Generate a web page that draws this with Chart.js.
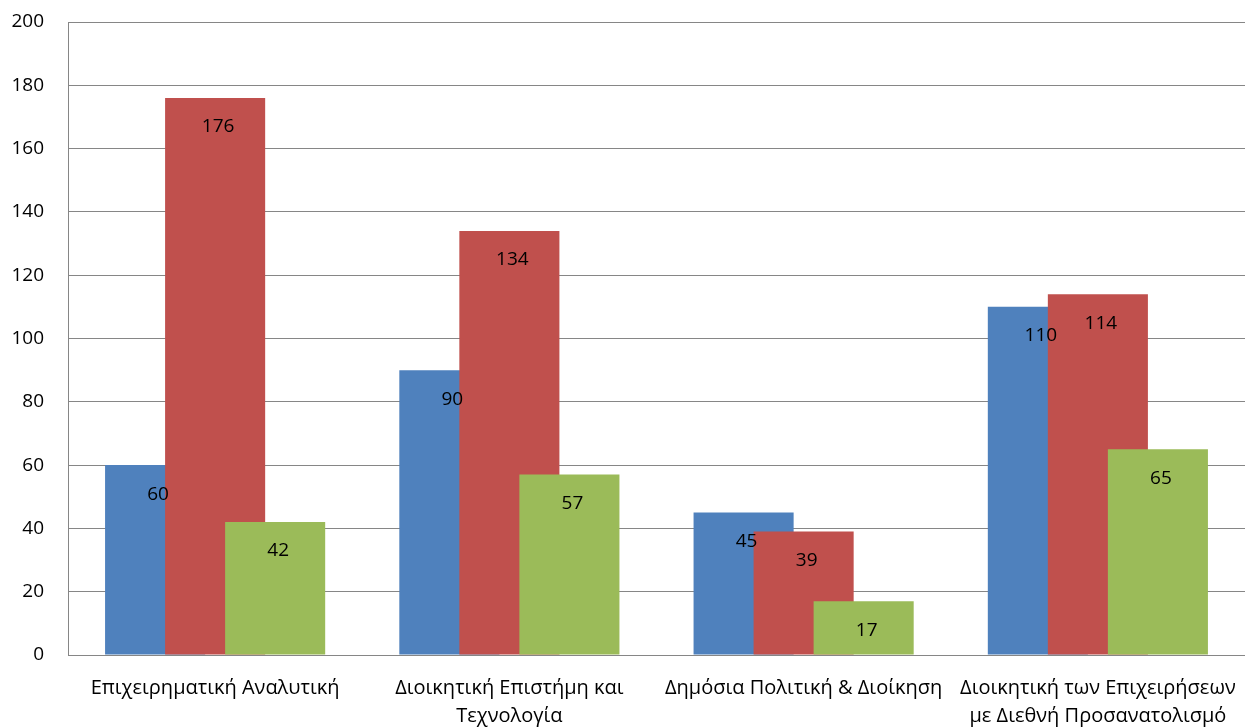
<!DOCTYPE html>
<html>
<head>
<meta charset="utf-8">
<script src="https://cdn.jsdelivr.net/npm/chart.js@4"></script>
<style>
  html, body { margin: 0; padding: 0; background: #fff; }
  #wrap { width: 1245px; height: 727px; }
</style>
</head>
<body>
<div id="wrap"><canvas id="chart"></canvas></div>
<script>
// data
const categories = [
  'Επιχειρηματική Αναλυτική',
  ['Διοικητική Επιστήμη και', 'Τεχνολογία'],
  'Δημόσια Πολιτική & Διοίκηση',
  ['Διοικητική των Επιχειρήσεων', 'με Διεθνή Προσανατολισμό']
];
const seriesBlue = [60, 90, 45, 110];
const seriesRed = [176, 134, 39, 114];
const seriesGreen = [42, 57, 17, 65];
const yTicks = [0, 20, 40, 60, 80, 100, 120, 140, 160, 180, 200];

const FONT = "'Open Sans', sans-serif";

// draw the bars first-to-last so later series sit in front (Excel style overlap)
const drawOrder = {
  id: 'drawOrder',
  beforeDatasetsDraw(chart) {
    const ctx = chart.ctx;
    const a = chart.chartArea;
    ctx.save();
    ctx.beginPath();
    ctx.rect(a.left, a.top, a.right - a.left, a.bottom - a.top);
    ctx.clip();
    chart.data.datasets.forEach((ds, i) => {
      chart.getDatasetMeta(i).controller.draw();
    });
    ctx.restore();
    return false;
  }
};

// values inside the bars, near the top
const barLabels = {
  id: 'barLabels',
  afterDraw(chart) {
    const ctx = chart.ctx;
    ctx.save();
    ctx.font = '19px ' + FONT;
    ctx.fillStyle = '#000';
    ctx.textAlign = 'center';
    ctx.textBaseline = 'middle';
    chart.data.datasets.forEach((ds, i) => {
      chart.getDatasetMeta(i).data.forEach((bar, j) => {
        ctx.fillText(ds.data[j], bar.x + 3, bar.y + 29);
      });
    });
    ctx.restore();
  }
};

new Chart(document.getElementById('chart'), {
  type: 'bar',
  data: {
    labels: categories,
    datasets: [
      { label: 'A', data: seriesBlue, backgroundColor: '#4F81BD' },
      { label: 'B', data: seriesRed, backgroundColor: '#C0504D' },
      { label: 'C', data: seriesGreen, backgroundColor: '#9BBB59' }
    ]
  },
  options: {
    responsive: true,
    maintainAspectRatio: false,
    animation: false,
    categoryPercentage: 0.612,
    barPercentage: 1.667,
    layout: { padding: { top: 22, left: 0, right: 0, bottom: 0 } },
    plugins: { legend: { display: false }, tooltip: { enabled: false } },
    scales: {
      x: {
        afterFit: s => {
          s.height = 72;
          s.paddingLeft = 0;
          s.paddingRight = 0;
        },
        grid: { display: false, drawTicks: false },
        border: { color: '#868686', width: 1 },
        ticks: {
          color: '#000',
          font: { family: FONT, size: 20, lineHeight: 1.4 },
          padding: 19,
          maxRotation: 0,
          autoSkip: false
        }
      },
      y: {
        min: 0,
        max: 200,
        afterBuildTicks: s => { s.ticks = yTicks.map(v => ({ value: v })); },
        afterFit: s => {
          s.width = 68;
          s.paddingTop = 0;
          s.paddingBottom = 0;
        },
        grid: { color: '#868686', drawTicks: false },
        border: { color: '#868686', width: 1 },
        ticks: {
          color: '#000',
          font: { family: FONT, size: 19 },
          padding: 24
        }
      }
    }
  },
  plugins: [drawOrder, barLabels]
});
</script>
</body>
</html>
